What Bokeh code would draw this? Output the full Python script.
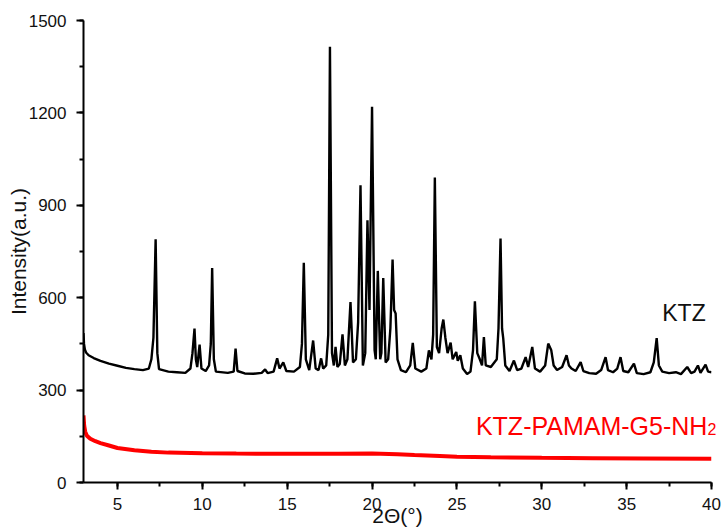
from bokeh.plotting import figure
from bokeh.models import Range1d, SingleIntervalTicker, FixedTicker, Label, LinearAxis
from bokeh.embed import file_html
from bokeh.resources import INLINE

# KTZ pattern (2-theta in degrees, intensity in a.u.)
ktz_x = [3.00, 3.03, 3.08, 3.15, 3.3, 3.6, 4.0, 4.5, 5.0, 5.5, 6.0, 6.5, 6.85, 7.0, 7.12, 7.25, 7.35, 7.45,
         8.0, 8.5, 9.0, 9.3, 9.42, 9.54, 9.62, 9.7, 9.84, 9.95, 10.2, 10.4, 10.5, 10.58, 10.68, 10.8,
         11.5, 11.85, 11.96, 12.07, 12.5, 13.0, 13.5, 13.7, 13.85, 14.2, 14.41, 14.55, 14.77, 14.95,
         15.4, 15.75, 15.87, 15.98, 16.1, 16.3, 16.53, 16.68, 16.85, 17.0, 17.12, 17.3, 17.42, 17.52,
         17.64, 17.75, 17.85, 17.96, 18.1, 18.26, 18.4, 18.55, 18.73, 18.88, 19.05, 19.18, 19.32, 19.46,
         19.6, 19.73, 19.85, 20.0, 20.15, 20.22, 20.34, 20.48, 20.55, 20.66, 20.8, 20.95, 21.08, 21.21,
         21.3, 21.39, 21.5, 21.7, 22.0, 22.25, 22.4, 22.55, 22.9, 23.2, 23.35, 23.5, 23.6, 23.70, 23.82,
         23.95, 24.1, 24.2, 24.32, 24.45, 24.63, 24.75, 24.96, 25.05, 25.2, 25.35, 25.6, 25.8, 25.95,
         26.06, 26.2, 26.35, 26.48, 26.59, 26.7, 27.0, 27.35, 27.45, 27.57, 27.66, 27.73, 27.85, 28.1,
         28.36, 28.55, 28.8, 29.05, 29.2, 29.44, 29.6, 29.9, 30.2, 30.38, 30.56, 30.7, 30.9, 31.2, 31.46,
         31.6, 31.75, 32.0, 32.29, 32.45, 32.8, 33.2, 33.5, 33.76, 33.9, 34.2, 34.45, 34.64, 34.8, 35.1,
         35.43, 35.6, 36.0, 36.4, 36.6, 36.77, 36.9, 37.1, 37.5, 37.9, 38.2, 38.57, 38.8, 39.0, 39.2,
         39.35, 39.65, 39.8, 40.0]
ktz_y = [485, 450, 432, 422, 413, 404, 395, 386, 379, 372, 368, 365, 370, 400, 470, 790, 420, 368,
         360, 358, 356, 370, 420, 500, 400, 375, 448, 370, 362, 380, 450, 696, 400, 360,
         356, 360, 435, 362, 354, 353, 356, 367, 355, 360, 403, 370, 390, 362,
         360, 375, 450, 713, 400, 365, 461, 370, 365, 403, 370, 380, 480, 1415,
         420, 380, 440, 375, 385, 481, 380, 400, 586, 390, 400, 520, 965, 380,
         420, 851, 560, 1220, 430, 400, 687, 400, 420, 664, 390, 400, 500, 724,
         560, 549, 400, 365, 358, 380, 453, 370, 360, 370, 429, 400, 480, 990, 440,
         420, 500, 529, 470, 420, 454, 400, 424, 395, 413, 370, 352, 360, 430,
         588, 420, 400, 380, 472, 380, 375, 400, 500, 792, 500, 468, 380, 362,
         396, 365, 370, 407, 375, 440, 370, 360, 380, 451, 429, 380, 365, 375, 413,
         380, 370, 362, 391, 362, 355, 353, 365, 407, 365, 358, 370, 407, 362, 358,
         386, 355, 352, 358, 390, 469, 380, 360, 355, 358, 352, 375, 355, 360, 380,
         356, 383, 360, 358]

# KTZ-PAMAM-G5-NH2 pattern
pam_x = [3.0, 3.04, 3.1, 3.2, 3.4, 3.7, 4.0, 4.5, 5.0, 6.0, 7.0, 8.0, 10.0, 12.0, 15.0,
         18.0, 20.0, 21.5, 22.5, 24.0, 25.0, 27.0, 30.0, 33.0, 36.0, 40.0]
pam_y = [218, 185, 165, 152, 142, 134, 128, 120, 112, 105, 100, 97, 95, 94, 93,
         93, 94, 92, 89, 86, 84, 82, 80, 79, 78, 77]

x_start, x_end, x_step = 3, 40, 5
y_start, y_end, y_step = 0, 1500, 300

FONT = "Liberation Sans"

p = figure(width=724, height=531, output_backend="svg", toolbar_location=None,
           x_range=Range1d(x_start, x_end), y_range=Range1d(y_start, y_end),
           min_border_left=83, min_border_right=13, min_border_top=20, min_border_bottom=49,
           background_fill_color="white", border_fill_color="white")
p.outline_line_color = None
p.grid.visible = False

p.line(ktz_x, ktz_y, line_color="black", line_width=2.4)
p.line(pam_x, pam_y, line_color="#ff0000", line_width=4)

p.xaxis.ticker = SingleIntervalTicker(interval=x_step, num_minor_ticks=2)
p.yaxis.ticker = SingleIntervalTicker(interval=y_step, num_minor_ticks=2)

for ax in (p.xaxis[0], p.yaxis[0]):
    ax.axis_line_width = 2
    ax.axis_line_color = "black"
    ax.major_tick_line_width = 2
    ax.major_tick_line_color = "black"
    ax.minor_tick_line_width = 2
    ax.minor_tick_line_color = "black"
    ax.major_tick_in = 0
    ax.major_tick_out = 7
    ax.minor_tick_in = 0
    ax.minor_tick_out = 4
    ax.major_label_text_font = FONT
    ax.major_label_text_font_size = "17px"
    ax.major_label_text_color = "#111111"
    ax.axis_label_text_font = FONT
    ax.axis_label_text_font_size = "21px"
    ax.axis_label_text_font_style = "normal"
    ax.axis_label_text_color = "#111111"

p.xaxis.major_label_standoff = 8
p.yaxis.major_label_standoff = 10
p.yaxis.axis_label = "Intensity(a.u.)"
p.yaxis.axis_label_standoff = -4
p.xaxis.axis_label = "2Θ(°)"
p.xaxis.axis_label_standoff = -9

# series labels
p.add_layout(Label(x=37.1, y=550, text="KTZ", text_font=FONT, text_font_size="23px",
                   text_align="left", text_baseline="alphabetic", text_color="#111111"))
p.add_layout(Label(x=26.12, y=185, text="KTZ-PAMAM-G5-NH", text_font=FONT, text_font_size="25px",
                   text_align="left", text_baseline="alphabetic", text_color="#ff0000"))

# subscript "2" of the NH2 label sits past the plot edge: drawn as a bare right-side axis label
sub_y = 175
sub_axis = LinearAxis(ticker=FixedTicker(ticks=[sub_y], minor_ticks=[]),
                      major_label_overrides={sub_y: "2"},
                      axis_line_color=None, major_tick_line_color=None, minor_tick_line_color=None,
                      major_tick_out=0, major_tick_in=0, minor_tick_out=0, minor_tick_in=0,
                      major_label_standoff=-4, major_label_text_font=FONT,
                      major_label_text_font_size="16px", major_label_text_color="#ff0000")
p.add_layout(sub_axis, "right")

open("out.html", "w").write(file_html(p, INLINE))
